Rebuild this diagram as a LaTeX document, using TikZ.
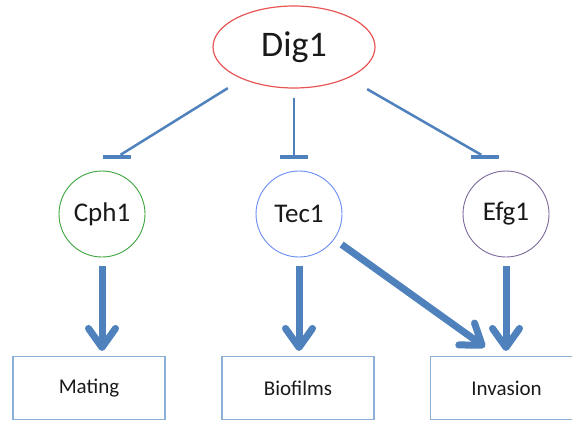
\documentclass[tikz,border=0pt]{standalone}
\usepackage[dvipsnames,svgnames,x11names]{xcolor}
\usepackage{fontspec}
\setmainfont{Carlito}
\usetikzlibrary{shapes.geometric, arrows.meta}

\definecolor{linkblue}{RGB}{79,129,189}
\definecolor{boxblue}{RGB}{140,175,215}
\definecolor{digred}{RGB}{232,85,85}
\definecolor{cphgreen}{RGB}{60,165,60}
\definecolor{tecblue}{RGB}{105,140,245}
\definecolor{efgpurple}{RGB}{125,105,155}

\begin{document}
\begin{tikzpicture}[x=1pt, y=-1pt,
    every node/.style={text=black!90},
    gene/.style={circle, draw, line width=0.9pt, minimum size=86pt, inner sep=0pt,
        font=\fontsize{27}{30}\selectfont},
    trait/.style={rectangle, draw=boxblue, line width=1.1pt, minimum width=152pt,
        minimum height=63pt, font=\fontsize{21}{24}\selectfont},
    inhibbar/.style={rectangle, fill=linkblue, minimum width=28pt, minimum height=4pt,
        inner sep=0pt},
    inhib/.style={linkblue, line width=2.5pt, shorten <=#1},
    inhib/.default=12pt,
    promote/.style={linkblue, line width=7pt, shorten <=9pt, shorten >=5pt,
        -{Straight Barb[length=19pt, width=27pt, round]}},
]
    \useasboundingbox (0,0) rectangle (572,420);
    \clip (0,0) rectangle (572,420);

    % regulator
    \node[ellipse, draw=digred, line width=1.2pt, minimum width=162pt, minimum height=82pt,
        inner sep=0pt, font=\fontsize{36}{40}\selectfont] (dig) at (294,47) {Dig1};

    % transcription factors
    \node[gene, draw=cphgreen] (cph) at (102,214) {Cph1};
    \node[gene, draw=tecblue] (tec) at (299,214) {Tec1};
    \node[gene, draw=efgpurple] (efg) at (506,214) {Efg1};

    % phenotypes (the last one runs off the right edge)
    \node[trait] (mating) at (89,388) {Mating};
    \node[trait] (biofilms) at (298,388) {Biofilms};
    \node[trait, minimum width=200pt, inner xsep=0pt, anchor=west] (invasion) at (430,388)
        {\makebox[152pt]{Invasion}\hspace*{48pt}};

    % repression
    \node[inhibbar] (cph-bar) at (117,157) {};
    \node[inhibbar] (tec-bar) at (294,157) {};
    \node[inhibbar] (efg-bar) at (485,157) {};
    \draw[inhib=17pt] (dig) -- (cph-bar);
    \draw[inhib=9pt] (dig.south -| tec-bar) -- (tec-bar);
    \draw[inhib=22pt] (dig) -- (efg-bar);

    % activation
    \coordinate (inv-in) at (489,350);
    \draw[promote] (cph) -- (cph |- mating.north);
    \draw[promote] (tec) -- (tec |- biofilms.north);
    \draw[promote] (efg) -- (efg |- invasion.north);
    \draw[promote] (tec) -- (inv-in);
\end{tikzpicture}
\end{document}
